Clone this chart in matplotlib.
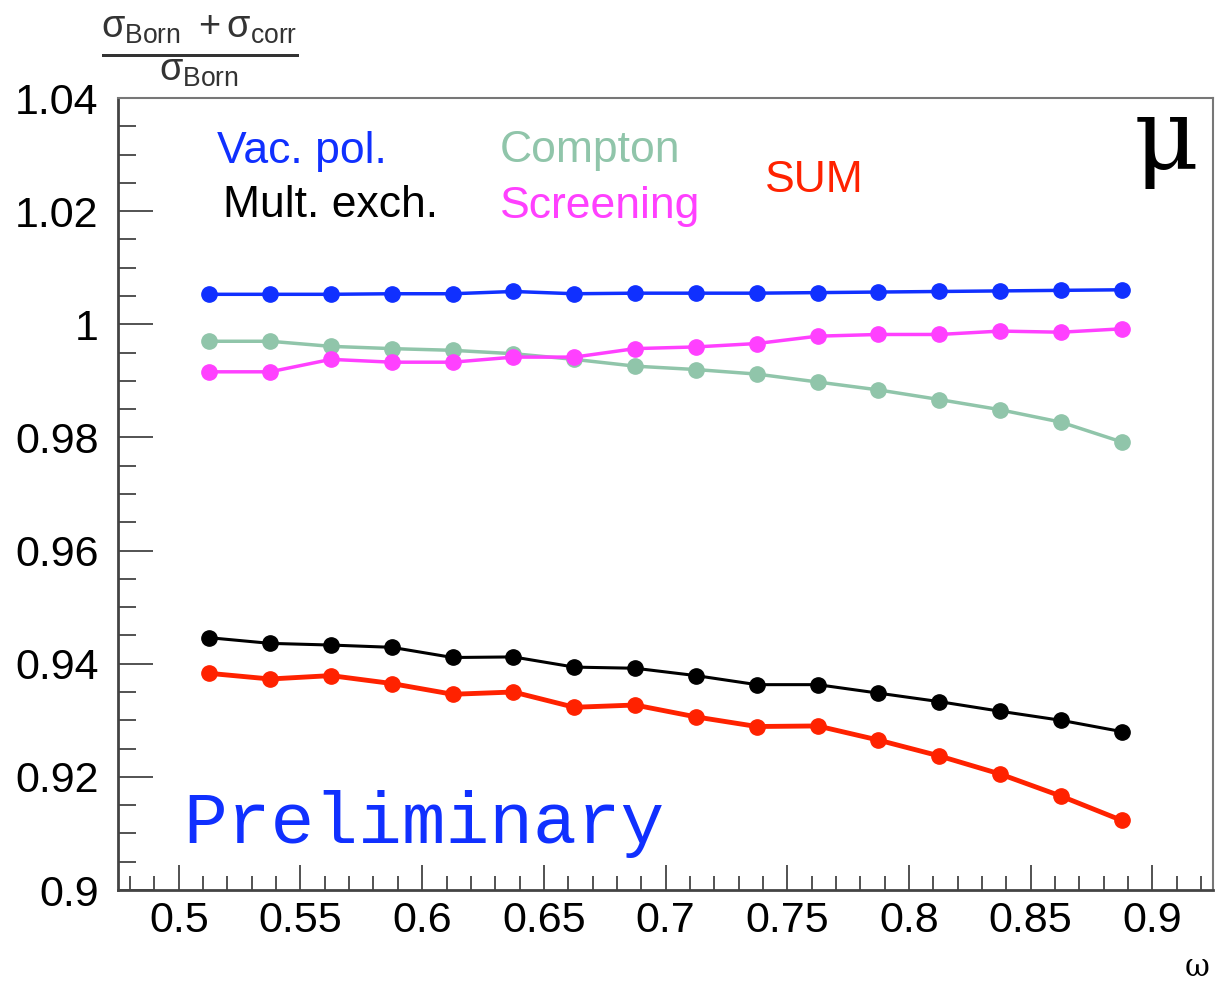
import numpy as np
import matplotlib
matplotlib.use("Agg")
import matplotlib.pyplot as plt
from matplotlib.ticker import MultipleLocator

# DATOS
omega = [0.5125, 0.5375, 0.5625, 0.5875, 0.6125, 0.6375, 0.6625, 0.6875,
         0.7125, 0.7375, 0.7625, 0.7875, 0.8125, 0.8375, 0.8625, 0.8875]

vac_pol = [1.0053, 1.0053, 1.0053, 1.0054, 1.0054, 1.0058, 1.0054, 1.0055,
           1.0055, 1.0055, 1.0056, 1.0057, 1.0058, 1.0059, 1.0060, 1.0061]
compton = [0.9970, 0.9970, 0.9961, 0.9957, 0.9954, 0.9948, 0.9938, 0.9926,
           0.9920, 0.9912, 0.9898, 0.9884, 0.9867, 0.9849, 0.9827, 0.9792]
screening = [0.9916, 0.9916, 0.9938, 0.9933, 0.9933, 0.9942, 0.9942, 0.9957,
             0.9960, 0.9966, 0.9979, 0.9982, 0.9982, 0.9988, 0.9986, 0.9992]
mult_exch = [0.9446, 0.9436, 0.9433, 0.9429, 0.9411, 0.9412, 0.9394, 0.9392,
             0.9379, 0.9363, 0.9363, 0.9348, 0.9333, 0.9316, 0.9300, 0.9280]
suma = [0.9383, 0.9373, 0.9379, 0.9365, 0.9346, 0.9350, 0.9323, 0.9327,
        0.9306, 0.9289, 0.9290, 0.9265, 0.9237, 0.9205, 0.9166, 0.9123]

x_ticks = [0.5, 0.55, 0.6, 0.65, 0.7, 0.75, 0.8, 0.85, 0.9]
x_labels = ["0.5", "0.55", "0.6", "0.65", "0.7", "0.75", "0.8", "0.85", "0.9"]
y_ticks = [0.9, 0.92, 0.94, 0.96, 0.98, 1.0, 1.02, 1.04]
y_labels = ["0.9", "0.92", "0.94", "0.96", "0.98", "1", "1.02", "1.04"]

AZUL = "#1030ff"
VERDE = "#90c5aa"
MAGENTA = "#ff40ff"
ROJO = "#ff2200"

SANS = ["Liberation Sans", "DejaVu Sans"]
plt.rcParams['font.family'] = SANS
plt.rcParams['mathtext.fontset'] = 'custom'
plt.rcParams['mathtext.rm'] = 'Liberation Sans'
plt.rcParams['mathtext.it'] = 'Liberation Sans'

fig = plt.figure(figsize=(12.15, 9.83), dpi=100)
ax = fig.add_axes([0.0971, 0.0946, 0.9013, 0.8057])

# GRAFICAS
ax.plot(omega, compton, '-o', color=VERDE, lw=2.5, ms=11, zorder=2)
ax.plot(omega, screening, '-o', color=MAGENTA, lw=2.5, ms=11, zorder=3)
ax.plot(omega, vac_pol, '-o', color=AZUL, lw=2.5, ms=11, zorder=4)
ax.plot(omega, mult_exch, '-o', color='black', lw=2.2, ms=11, zorder=3)
ax.plot(omega, suma, '-o', color=ROJO, lw=3.5, ms=11, zorder=4)

ax.set_xlim(0.475, 0.925)
ax.set_ylim(0.9, 1.04)

ax.set_xticks(x_ticks)
ax.set_xticklabels(x_labels)
ax.set_yticks(y_ticks)
ax.set_yticklabels(y_labels)
ax.xaxis.set_minor_locator(MultipleLocator(0.01))
ax.yaxis.set_minor_locator(MultipleLocator(0.005))

ax.tick_params(axis='both', which='both', direction='in', top=False, right=False,
               color='#444444', width=1.3, labelsize=31)
ax.tick_params(axis='x', which='major', length=18, pad=8)
ax.tick_params(axis='x', which='minor', length=10)
ax.tick_params(axis='y', which='major', length=25, pad=14)
ax.tick_params(axis='y', which='minor', length=13)

for lado in ['left', 'bottom']:
    ax.spines[lado].set_color('#444444')
    ax.spines[lado].set_linewidth(2)
for lado in ['top', 'right']:
    ax.spines[lado].set_color('#777777')
    ax.spines[lado].set_linewidth(1.5)

# TEXTOS
ax.text(0.5156, 1.0285, "Vac. pol.", color=AZUL, fontsize=32, va='baseline', ha='left')
ax.text(0.5181, 1.0189, "Mult. exch.", color='black', fontsize=32, va='baseline', ha='left')
ax.text(0.6318, 1.0287, "Compton", color=VERDE, fontsize=32, va='baseline', ha='left')
ax.text(0.6320, 1.0188, "Screening", color=MAGENTA, fontsize=32, va='baseline', ha='left')
ax.text(0.7410, 1.0234, "SUM", color=ROJO, fontsize=32, va='baseline', ha='left')
ax.text(0.9190, 1.0276, "\u03bc", color='black', fontsize=72, va='baseline', ha='right',
        family=["DejaVu Serif", "DejaVu Sans"])
ax.text(0.5020, 0.9083, "Preliminary", color=AZUL, fontsize=52.5, va='baseline', ha='left',
        family=["Liberation Mono", "DejaVu Sans Mono"])

fig.text(200 / 1215, 1 - 52 / 983,
         r'$\frac{\sigma_{\rm Born}\ +\sigma_{\rm corr}}{\sigma_{\rm Born}}$',
         fontsize=39, ha='center', va='center', color='#333333')
fig.text(1197 / 1215, 1 - 968 / 983, "\u03c9", fontsize=22, ha='center', va='center',
         family=["DejaVu Serif", "DejaVu Sans"])

plt.savefig("out.png", dpi=100)
